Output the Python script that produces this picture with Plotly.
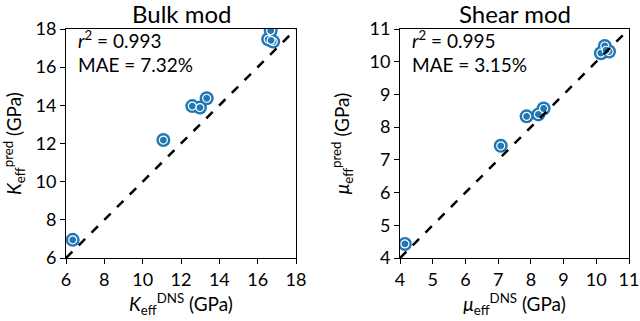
import plotly.graph_objects as go
from plotly.subplots import make_subplots

# bulk modulus (GPa)
bulk_dns = [6.35, 11.08, 12.59, 12.99, 13.34, 16.55, 16.81, 16.68, 16.70]
bulk_pred = [6.95, 12.18, 13.96, 13.88, 14.37, 17.46, 17.34, 17.91, 17.40]

# shear modulus (GPa)
shear_dns = [4.15, 7.08, 7.87, 8.23, 8.39, 10.14, 10.26, 10.39, 10.30]
shear_pred = [4.43, 7.43, 8.33, 8.39, 8.57, 10.26, 10.48, 10.31, 10.35]

bulk_stats = ["0.993", "7.32%"]
shear_stats = ["0.995", "3.15%"]

blue = "#1f77b4"
font_family = "Lato"

fig = make_subplots(rows=1, cols=2)

panels = [
    (1, bulk_dns, bulk_pred, [6, 18], 2, "K", bulk_stats),
    (2, shear_dns, shear_pred, [4, 11], 1, "μ", shear_stats),
]

for col, xs, ys, rng, step, sym, stats in panels:
    # outer blue disc
    fig.add_trace(
        go.Scatter(
            x=xs, y=ys, mode="markers",
            marker=dict(size=14, color=blue, line=dict(width=0)),
            showlegend=False, hoverinfo="skip",
        ),
        row=1, col=col,
    )
    # inner disc with a white ring
    fig.add_trace(
        go.Scatter(
            x=xs, y=ys, mode="markers",
            marker=dict(size=8, color=blue, line=dict(width=1.2, color="white")),
            showlegend=False,
        ),
        row=1, col=col,
    )
    # y = x reference line
    fig.add_trace(
        go.Scatter(
            x=rng, y=rng, mode="lines",
            line=dict(color="black", width=2.5, dash="dash"),
            showlegend=False, hoverinfo="skip",
        ),
        row=1, col=col,
    )

    ticks = list(range(rng[0], rng[1] + 1, step))
    sym_html = f"<i>{sym}</i>"
    axis_style = dict(
        range=rng, tickvals=ticks, ticks="outside", ticklen=5, tickwidth=1,
        tickcolor="black", showline=True, linecolor="black", linewidth=1,
        mirror=True, showgrid=False, zeroline=False, automargin=False,
        tickfont=dict(size=18, color="black"), ticklabeloverflow="allow",
    )
    fig.update_xaxes(
        **axis_style,
        title=dict(text=f"{sym_html}<sub>eff</sub><sup>DNS</sup> (GPa)",
                   font=dict(size=19, color="black"), standoff=6),
        row=1, col=col,
    )
    fig.update_yaxes(
        **axis_style,
        title=dict(text=f"{sym_html}<sub>eff</sub><sup>pred</sup> (GPa)",
                   font=dict(size=19, color="black"), standoff=14),
        row=1, col=col,
    )

    xref = "x domain" if col == 1 else "x2 domain"
    yref = "y domain" if col == 1 else "y2 domain"
    fig.add_annotation(
        x=0.0, y=0.952, xref=xref, yref=yref, xanchor="left", yanchor="middle",
        text=f"<i>r</i><sup>2</sup> = {stats[0]}", showarrow=False,
        font=dict(size=19, color="black"), xshift=10,
    )
    fig.add_annotation(
        x=0.0, y=0.843, xref=xref, yref=yref, xanchor="left", yanchor="middle",
        text=f"MAE = {stats[1]}", showarrow=False,
        font=dict(size=19, color="black"), xshift=10,
    )

y_dom = [1 - 258 / 321, 1 - 29 / 321]
fig.update_layout(
    width=640, height=321,
    margin=dict(l=0, r=0, t=0, b=0),
    plot_bgcolor="white", paper_bgcolor="white",
    font=dict(family=font_family, color="black"),
    xaxis=dict(domain=[66 / 640, 296 / 640]),
    xaxis2=dict(domain=[400 / 640, 629 / 640]),
    yaxis=dict(domain=y_dom),
    yaxis2=dict(domain=y_dom),
)

for label, cx in [("Bulk mod", (66 + 296) / 2 / 640), ("Shear mod", (400 + 629) / 2 / 640)]:
    fig.add_annotation(
        x=cx, y=1 - 13 / 321, xref="paper", yref="paper",
        xanchor="center", yanchor="middle", text=label, showarrow=False,
        font=dict(size=24, color="black"),
    )

# the page body has a default 8px margin; drop it so the figure fills the window
fig.write_html(
    "out.html",
    config={"displayModeBar": False},
    post_script="document.body.style.margin = '0px';",
)
